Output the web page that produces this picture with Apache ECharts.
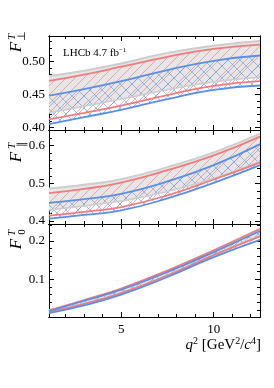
<!DOCTYPE html>
<html><head><meta charset="utf-8">
<script src="https://cdn.jsdelivr.net/npm/echarts@6/dist/echarts.min.js"></script>
<style>html,body{margin:0;padding:0;background:#fff}#c{width:274px;height:388px}</style>
</head><body><div id="c"></div>
<script>
// q^2 sample points (GeV^2/c^4)
const q2 = [1.1, 3, 5, 7.5, 10, 12.5];

// Panel 1: F_perp^T
const perpGrayHi = [0.478, 0.486, 0.497, 0.513, 0.524, 0.531];
const perpGrayLo = [0.422, 0.432, 0.443, 0.457, 0.469, 0.476];
const perpRedHi  = [0.4705, 0.480, 0.492, 0.507, 0.519, 0.5255];
const perpRedLo  = [0.412, 0.422, 0.433, 0.449, 0.463, 0.470];
const perpBlueHi = [0.448, 0.458, 0.470, 0.487, 0.501, 0.509];
const perpBlueLo = [0.405, 0.4155, 0.4265, 0.443, 0.457, 0.4635];

// Panel 2: F_par^T
const paraGrayHi = [0.486, 0.496, 0.511, 0.543, 0.582, 0.632];
const paraGrayLo = [0.429, 0.440, 0.453, 0.478, 0.513, 0.558];
const paraRedHi  = [0.474, 0.485, 0.502, 0.535, 0.574, 0.624];
const paraRedLo  = [0.414, 0.424, 0.437, 0.468, 0.510, 0.555];
const paraBlueHi = [0.448, 0.458, 0.472, 0.505, 0.548, 0.604];
const paraBlueLo = [0.406, 0.416, 0.428, 0.460, 0.501, 0.548];

// Panel 3: F_0^T
const zeroGrayHi = [0.019, 0.045, 0.075, 0.122, 0.174, 0.229];
const zeroGrayLo = [0.014, 0.037, 0.065, 0.111, 0.164, 0.214];
const zeroRedHi  = [0.018, 0.046, 0.076, 0.123, 0.176, 0.232];
const zeroRedLo  = [0.014, 0.036, 0.064, 0.110, 0.163, 0.212];
const zeroBlueHi = [0.017, 0.044, 0.073, 0.119, 0.171, 0.226];
const zeroBlueLo = [0.012, 0.032, 0.060, 0.106, 0.158, 0.203];

// Tick values
const xMajor = [5, 10];
const xMinor = [2, 3, 4, 6, 7, 8, 9, 11, 12];
const y1Major = [0.40, 0.45, 0.50];
const y1Minor = [0.40, 0.41, 0.42, 0.43, 0.44, 0.45, 0.46, 0.47, 0.48, 0.49, 0.50, 0.51, 0.52, 0.53];
const y2Major = [0.4, 0.5, 0.6];
const y2Minor = [0.40, 0.42, 0.44, 0.46, 0.48, 0.50, 0.52, 0.54, 0.56, 0.58, 0.60, 0.62, 0.64];
const y3Major = [0.1, 0.2];
const y3Minor = [0.02, 0.04, 0.06, 0.08, 0.10, 0.12, 0.14, 0.16, 0.18, 0.20, 0.22, 0.24];

const FONT = 'Liberation Serif';
const RED = '#f27b7b', BLUE = '#5b8fe6', GRAYL = '#cdcdcd', GRAYF = '#e6e6e6';

function hatch(size, color, both) {
  const c = document.createElement('canvas');
  c.width = size; c.height = size;
  const g = c.getContext('2d');
  g.strokeStyle = color; g.lineWidth = 0.8;
  g.beginPath();
  g.moveTo(-1, size + 1); g.lineTo(size + 1, -1);
  g.moveTo(-1, 1); g.lineTo(1, -1);
  g.moveTo(size - 1, size + 1); g.lineTo(size + 1, size - 1);
  if (both) {
    g.moveTo(-1, -1); g.lineTo(size + 1, size + 1);
    g.moveTo(size - 1, -1); g.lineTo(size + 1, 1);
    g.moveTo(-1, size - 1); g.lineTo(1, size + 1);
  }
  g.stroke();
  return {image: c, repeat: 'repeat'};
}
const redHatch = hatch(9, 'rgba(240,110,110,0.7)', false);
const blueHatch = hatch(12, 'rgba(90,140,230,0.7)', true);

const grids = [
  {left: 49, right: 14, top: 36, height: 94},
  {left: 49, right: 14, top: 130, height: 94},
  {left: 49, right: 14, top: 224, height: 93}
];

const xAxis = [], yAxis = [];
function axisBase(gi, pos, min, max, ticks, len, labels, fmt) {
  return {
    type: 'value', gridIndex: gi, position: pos, min: min, max: max,
    axisLine: {show: true, onZero: false, lineStyle: {color: '#000', width: 1}},
    axisTick: {show: true, inside: true, length: len, customValues: ticks, lineStyle: {color: '#000', width: 1}},
    axisLabel: labels ? {show: true, customValues: ticks, formatter: fmt, fontFamily: FONT, fontSize: 13, color: '#000', margin: pos === 'bottom' ? 6 : 4} : {show: false},
    splitLine: {show: false}
  };
}
const yDefs = [
  [0.396, 0.5386, y1Major, y1Minor, v => v.toFixed(2)],
  [0.392, 0.6414, y2Major, y2Minor, v => v.toFixed(1)],
  [0.0016, 0.2444, y3Major, y3Minor, v => v.toFixed(1)]
];
for (let gi = 0; gi < 3; gi++) {
  const lab = gi === 2;
  xAxis.push(axisBase(gi, 'bottom', 1.1, 12.5, xMajor, 5, lab, v => String(v)));
  xAxis.push(axisBase(gi, 'bottom', 1.1, 12.5, xMinor, 3, false));
  xAxis.push(axisBase(gi, 'top', 1.1, 12.5, xMajor, 5, false));
  xAxis.push(axisBase(gi, 'top', 1.1, 12.5, xMinor, 3, false));
  const d = yDefs[gi];
  yAxis.push(axisBase(gi, 'left', d[0], d[1], d[2], 5, true, d[4]));
  yAxis.push(axisBase(gi, 'left', d[0], d[1], d[3], 3, false));
  yAxis.push(axisBase(gi, 'right', d[0], d[1], d[2], 5, false));
  yAxis.push(axisBase(gi, 'right', d[0], d[1], d[3], 3, false));
}

const series = [];
const SM = 0.5;
// data rows are [y, x] so the stacked dimension is y
function band(gi, lo, hi, key, fill) {
  const ax = {xAxisIndex: gi * 4, yAxisIndex: gi * 4, encode: {x: 1, y: 0}};
  series.push(Object.assign({type: 'line', stack: key + gi, data: q2.map((x, i) => [lo[i], x]),
    smooth: SM, symbol: 'none', lineStyle: {opacity: 0}, silent: true}, ax));
  series.push(Object.assign({type: 'line', stack: key + gi, data: q2.map((x, i) => [hi[i] - lo[i], x]),
    smooth: SM, symbol: 'none', lineStyle: {opacity: 0}, areaStyle: {color: fill, opacity: 1}, silent: true}, ax));
}
function edge(gi, vals, color, w) {
  series.push({type: 'line', xAxisIndex: gi * 4, yAxisIndex: gi * 4, encode: {x: 1, y: 0},
    data: q2.map((x, i) => [vals[i], x]),
    smooth: SM, symbol: 'none', lineStyle: {color: color, width: w}, silent: true});
}
const panels = [
  [perpGrayLo, perpGrayHi, perpRedLo, perpRedHi, perpBlueLo, perpBlueHi],
  [paraGrayLo, paraGrayHi, paraRedLo, paraRedHi, paraBlueLo, paraBlueHi],
  [zeroGrayLo, zeroGrayHi, zeroRedLo, zeroRedHi, zeroBlueLo, zeroBlueHi]
];
panels.forEach((p, gi) => {
  band(gi, p[0], p[1], 'g', GRAYF);
  band(gi, p[2], p[3], 'r', redHatch);
  band(gi, p[4], p[5], 'b', blueHatch);
  edge(gi, p[0], GRAYL, 1.6); edge(gi, p[1], GRAYL, 2);
  edge(gi, p[2], RED, 1.8); edge(gi, p[3], RED, 1.8);
  edge(gi, p[4], BLUE, 1.8); edge(gi, p[5], BLUE, 1.8);
});

function rtext(x, y, txt, size, italic) {
  return {type: 'text', x: x, y: y, rotation: Math.PI / 2, z: 100,
    style: {text: txt, fontFamily: FONT, fontSize: size, fontStyle: italic ? 'italic' : 'normal',
      fill: '#000', align: 'center', verticalAlign: 'middle'}};
}
const graphic = [
  rtext(17, 47, 'F', 17, true), rtext(12, 37, 'T', 11, true), rtext(22, 36, '⊥', 11, false),
  rtext(17, 157, 'F', 17, true), rtext(12, 146, 'T', 11, true), rtext(22, 144, '∥', 11, false),
  rtext(17, 244, 'F', 17, true), rtext(12, 233, 'T', 11, true), rtext(22, 232, '0', 11, false),
  {type: 'text', x: 63, y: 53, z: 100, style: {
    text: 'LHCb 4.7 fb{s|−1}', fontFamily: FONT, fontSize: 11, fill: '#000', verticalAlign: 'middle',
    rich: {s: {fontFamily: FONT, fontSize: 7, verticalAlign: 'top', padding: [0, 0, 5, 0]}}}},
  {type: 'text', x: 261, y: 345, z: 100, style: {
    text: '{i|q}{s|2} [GeV{s|2}/{i|c}{s|4}]', fontFamily: FONT, fontSize: 15, fill: '#000',
    align: 'right', verticalAlign: 'middle',
    rich: {i: {fontFamily: FONT, fontSize: 15, fontStyle: 'italic'},
           s: {fontFamily: FONT, fontSize: 10, padding: [0, 0, 7, 0]}}}}
];

const chart = echarts.init(document.getElementById('c'), null, {renderer: 'canvas'});
chart.setOption({animation: false, grid: grids, xAxis: xAxis, yAxis: yAxis, series: series, graphic: graphic});
</script></body></html>
